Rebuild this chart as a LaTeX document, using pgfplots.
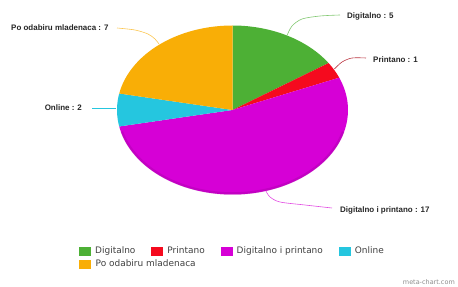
\documentclass[border=0pt]{standalone}
\usepackage{pgfplots}
\usepackage{pgfplotstable}
\pgfplotsset{compat=1.18}
\usepackage{fontspec}
\setmainfont{Liberation Sans}
\newfontfamily\legfont{DejaVu Sans}
\definecolor{cgreen}{HTML}{4DB035}
\definecolor{cred}{HTML}{F50A1E}
\definecolor{cmag}{HTML}{D600D6}
\definecolor{ccyan}{HTML}{25C6DF}
\definecolor{corange}{HTML}{F9AE06}
\pgfplotstableread{
name value
Digitalno 5
Printano 1
DigitalnoIPrintano 17
Online 2
PoOdabiru 7
}\piedata
\begin{document}
\begin{tikzpicture}
\pgfplotstablegetelem{0}{value}\of\piedata \edef\va{\pgfplotsretval}
\pgfplotstablegetelem{1}{value}\of\piedata \edef\vb{\pgfplotsretval}
\pgfplotstablegetelem{2}{value}\of\piedata \edef\vc{\pgfplotsretval}
\pgfplotstablegetelem{3}{value}\of\piedata \edef\vd{\pgfplotsretval}
\pgfplotstablegetelem{4}{value}\of\piedata \edef\ve{\pgfplotsretval}
\pgfmathsetmacro\tot{\va+\vb+\vc+\vd+\ve}
\pgfmathsetmacro\aA{90}
\pgfmathsetmacro\aB{\aA-360*\va/\tot}
\pgfmathsetmacro\aC{\aB-360*\vb/\tot}
\pgfmathsetmacro\aD{\aC-360*\vc/\tot}
\pgfmathsetmacro\aE{\aD-360*\vd/\tot}
\pgfmathsetmacro\aF{\aE-360*\ve/\tot}
\def\cx{232.5}\def\cy{110}\def\rx{115.5}\def\ry{84.5}
\begin{axis}[
  width=458bp, height=287bp, scale only axis,
  xmin=0, xmax=458, ymin=0, ymax=287, y dir=reverse,
  axis lines=none, clip=false,
  legend columns=4,
  legend cell align=left,
  legend image code/.code={\fill[#1] (0bp,-4.5bp) rectangle (12bp,4.5bp);},
  legend style={draw=none, fill=none, inner sep=0pt,
    at={(axis cs:79,246.5)}, anchor=north west,
    font=\legfont\fontsize{9}{10}\selectfont, text=black!75,
    nodes={inner sep=0pt},
    row sep=4bp,
    /tikz/every odd column/.append style={column sep=4bp},
    /tikz/every even column/.append style={column sep=16bp}},
]
\path (rel axis cs:0,0) rectangle (rel axis cs:1,1);
\addplot[fill=cgreen, draw=none, domain=\aB:\aA, samples=40, variable=\t]
  ({\cx+\rx*cos(\t)},{\cy-\ry*sin(\t)}) -- (axis cs:\cx,\cy) -- cycle;
\addplot[fill=cred, draw=none, domain=\aC:\aB, samples=15, variable=\t]
  ({\cx+\rx*cos(\t)},{\cy-\ry*sin(\t)}) -- (axis cs:\cx,\cy) -- cycle;
\addplot[fill=cmag, draw=none, domain=\aD:\aC, samples=100, variable=\t]
  ({\cx+\rx*cos(\t)},{\cy-\ry*sin(\t)}) -- (axis cs:\cx,\cy) -- cycle;
\addplot[fill=ccyan, draw=none, domain=\aE:\aD, samples=15, variable=\t]
  ({\cx+\rx*cos(\t)},{\cy-\ry*sin(\t)}) -- (axis cs:\cx,\cy) -- cycle;
\addplot[fill=corange, draw=none, domain=\aF:\aE, samples=40, variable=\t]
  ({\cx+\rx*cos(\t)},{\cy-\ry*sin(\t)}) -- (axis cs:\cx,\cy) -- cycle;
\legend{Digitalno, Printano, Digitalno i printano, Online, \makebox[0pt][l]{Po odabiru mladenaca}}
% darker rim at the bottom of the pie
\addplot[forget plot, draw=cmag!75!black, opacity=0.35, line width=2.5bp, domain=-165:-15, samples=60, variable=\t]
  ({\cx+(\rx-1)*cos(\t)},{\cy-(\ry-1)*sin(\t)});
% leader lines
\addplot[forget plot, draw=cgreen!70, line width=0.6pt, smooth] coordinates {(287,35.5) (292,26) (302,19) (320,16) (340,15)};
\addplot[forget plot, draw=cred!70!black!80, line width=0.6pt, smooth] coordinates {(334.4,69) (342,62) (352,58) (366,58)};
\addplot[forget plot, draw=cmag!70, line width=0.6pt, smooth] coordinates {(266,191) (270,197) (280,202) (305,205) (332,208)};
\addplot[forget plot, draw=ccyan, line width=0.6pt] coordinates {(92,108) (116,108)};
\addplot[forget plot, draw=corange!70, line width=0.6pt, smooth] coordinates {(117,28) (135,30) (148,34) (155,39) (159,44)};
\node[anchor=west, font=\fontsize{8}{9}\selectfont\bfseries, text=black!85, inner sep=0pt] at (axis cs:347,16) {Digitalno : 5};
\node[anchor=west, font=\fontsize{8}{9}\selectfont\bfseries, text=black!85, inner sep=0pt] at (axis cs:373,60) {Printano : 1};
\node[anchor=west, font=\fontsize{8}{9}\selectfont\bfseries, text=black!85, inner sep=0pt] at (axis cs:340,210) {Digitalno i printano : 17};
\node[anchor=east, font=\fontsize{8}{9}\selectfont\bfseries, text=black!85, inner sep=0pt] at (axis cs:82,108) {Online : 2};
\node[anchor=west, font=\fontsize{8}{9}\selectfont\bfseries, text=black!85, inner sep=0pt] at (axis cs:11,28) {Po odabiru mladenaca : 7};
\node[anchor=east, font=\legfont\fontsize{6.5}{7}\selectfont, text=black!45, inner sep=0pt] at (axis cs:455,282) {meta-chart.com};
\end{axis}
\end{tikzpicture}
\end{document}
